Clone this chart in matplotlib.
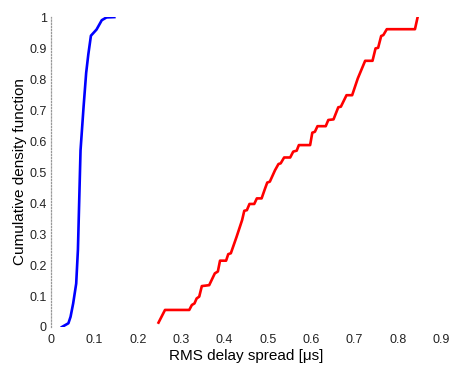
import matplotlib
matplotlib.use("Agg")
import matplotlib.pyplot as plt
from matplotlib.ticker import FuncFormatter

plt.rcParams['font.family'] = ['Liberation Sans', 'DejaVu Sans']

# blue curve (short delay spread)
blue_x = [0.025, 0.040, 0.045, 0.051, 0.058, 0.062, 0.065, 0.068, 0.075,
          0.081, 0.086, 0.092, 0.105, 0.117, 0.128, 0.146]
blue_y = [0.0, 0.012, 0.033, 0.076, 0.14, 0.25, 0.41, 0.57, 0.71,
          0.82, 0.88, 0.94, 0.96, 0.99, 0.999, 1.0]

# red curve (long delay spread)
red_x = [0.248, 0.263, 0.319, 0.325, 0.331, 0.336, 0.342, 0.348, 0.365,
         0.378, 0.385, 0.390, 0.404, 0.409, 0.415, 0.428, 0.441, 0.446,
         0.452, 0.458, 0.469, 0.475, 0.486, 0.494, 0.499, 0.505, 0.517,
         0.525, 0.530, 0.538, 0.552, 0.559, 0.567, 0.572, 0.598, 0.603,
         0.609, 0.615, 0.634, 0.640, 0.652, 0.663, 0.669, 0.682, 0.695,
         0.708, 0.725, 0.742, 0.749, 0.755, 0.762, 0.767, 0.775, 0.840,
         0.846]
red_y = [0.014, 0.055, 0.055, 0.071, 0.076, 0.092, 0.098, 0.132, 0.135,
         0.173, 0.179, 0.214, 0.214, 0.235, 0.238, 0.29, 0.345, 0.375,
         0.377, 0.397, 0.397, 0.415, 0.415, 0.447, 0.466, 0.469, 0.506,
         0.526, 0.528, 0.547, 0.547, 0.566, 0.569, 0.587, 0.587, 0.627,
         0.63, 0.648, 0.648, 0.668, 0.67, 0.709, 0.711, 0.748, 0.748,
         0.802, 0.859, 0.859, 0.899, 0.901, 0.939, 0.942, 0.961, 0.961,
         0.999]

x_ticks = [0, 0.1, 0.2, 0.3, 0.4, 0.5, 0.6, 0.7, 0.8, 0.9]
y_ticks = [0, 0.1, 0.2, 0.3, 0.4, 0.5, 0.6, 0.7, 0.8, 0.9, 1]

fig = plt.figure(figsize=(4.56, 3.72), dpi=100)
ax = fig.add_axes([0.112, 0.121, 0.855, 0.833])

ax.plot(blue_x, blue_y, color='#0000ff', lw=1.9, solid_joinstyle='round')
ax.plot(red_x, red_y, color='#ff0000', lw=1.9, solid_joinstyle='round')

ax.set_xlim(0, 0.9)
ax.set_ylim(0, 1)
ax.set_xticks(x_ticks)
ax.set_yticks(y_ticks)
fmt = FuncFormatter(lambda v, p: '%g' % round(v, 2))
ax.xaxis.set_major_formatter(fmt)
ax.yaxis.set_major_formatter(fmt)
ax.tick_params(length=0, labelsize=9, colors='#222222')
ax.tick_params(axis='x', pad=5)
ax.tick_params(axis='y', pad=3)

for s in ['top', 'right', 'bottom']:
    ax.spines[s].set_visible(False)
ax.spines['left'].set_linestyle((0, (1, 1.5)))
ax.spines['left'].set_color('#999999')
ax.spines['left'].set_linewidth(0.9)

ax.set_xlabel('RMS delay spread [\u03bcs]', fontsize=11, labelpad=2)
ax.set_ylabel('Cumulative density function', fontsize=11, labelpad=2)

fig.savefig('out.png', dpi=100)
